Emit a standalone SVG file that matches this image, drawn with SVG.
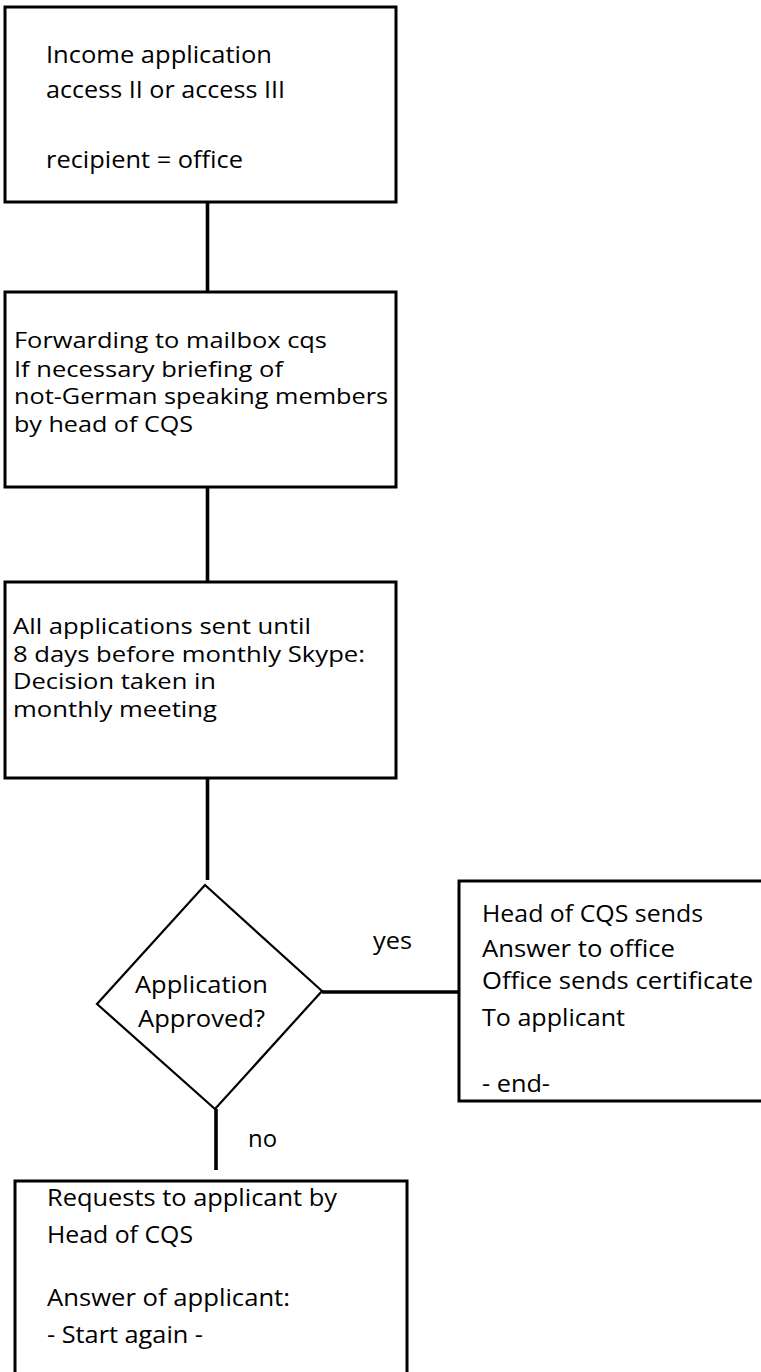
<svg xmlns="http://www.w3.org/2000/svg" width="761" height="1372" viewBox="0 0 761 1372">
<style>
.box{fill:#fff;stroke:#000;stroke-width:3}
.dia{fill:#fff;stroke:#000;stroke-width:2.2;stroke-linejoin:miter}
.con{stroke:#000;stroke-width:3.6;fill:none}
text{font-family:"Open Sans","Liberation Sans",sans-serif;font-size:24px;fill:#000}
.tight{font-size:22px}
</style>
<rect x="0" y="0" width="761" height="1372" fill="#fff"/>
<g id="connectors">
<line class="con" x1="207.5" y1="202" x2="207.5" y2="292"/>
<line class="con" x1="207.5" y1="487" x2="207.5" y2="582"/>
<line class="con" x1="207.5" y1="778" x2="207.5" y2="880"/>
<line class="con" x1="216" y1="1109" x2="216" y2="1170"/>
<line class="con" x1="322" y1="992" x2="459" y2="992"/>
<text x="373" y="949" textLength="39" lengthAdjust="spacingAndGlyphs">yes</text>
<text x="248" y="1147" textLength="29" lengthAdjust="spacingAndGlyphs">no</text>
</g>
<g id="node-income">
<rect class="box" x="5" y="7" width="391" height="195"/>
<text x="46" y="63" textLength="226" lengthAdjust="spacingAndGlyphs">Income application</text>
<text x="46" y="98" textLength="239" lengthAdjust="spacingAndGlyphs">access II or access III</text>
<text x="46" y="168" textLength="197" lengthAdjust="spacingAndGlyphs">recipient = office</text>
</g>
<g id="node-forwarding">
<rect class="box" x="5" y="292" width="391" height="195"/>
<text class="tight" x="14" y="348" textLength="313" lengthAdjust="spacingAndGlyphs">Forwarding to mailbox cqs</text>
<text class="tight" x="14" y="377" textLength="269" lengthAdjust="spacingAndGlyphs">If necessary briefing of</text>
<text class="tight" x="14" y="404" textLength="374" lengthAdjust="spacingAndGlyphs">not-German speaking members</text>
<text class="tight" x="14" y="432" textLength="179" lengthAdjust="spacingAndGlyphs">by head of CQS</text>
</g>
<g id="node-decision-meeting">
<rect class="box" x="5" y="582" width="391" height="196"/>
<text class="tight" x="13" y="634" textLength="298" lengthAdjust="spacingAndGlyphs">All applications sent until</text>
<text class="tight" x="13" y="662" textLength="352" lengthAdjust="spacingAndGlyphs">8 days before monthly Skype:</text>
<text class="tight" x="13" y="689" textLength="203" lengthAdjust="spacingAndGlyphs">Decision taken in</text>
<text class="tight" x="13" y="717" textLength="204" lengthAdjust="spacingAndGlyphs">monthly meeting</text>
</g>
<g id="node-approved">
<polygon class="dia" points="205,885 322,991 215,1109 97,1004"/>
<text x="135" y="993" textLength="133" lengthAdjust="spacingAndGlyphs">Application</text>
<text x="138" y="1027" textLength="127" lengthAdjust="spacingAndGlyphs">Approved?</text>
</g>
<g id="node-yes">
<rect class="box" x="459" y="881" width="320" height="220"/>
<text x="482" y="922" textLength="221" lengthAdjust="spacingAndGlyphs">Head of CQS sends</text>
<text x="482" y="957" textLength="193" lengthAdjust="spacingAndGlyphs">Answer to office</text>
<text x="482" y="989" textLength="271" lengthAdjust="spacingAndGlyphs">Office sends certificate</text>
<text x="482" y="1026" textLength="143" lengthAdjust="spacingAndGlyphs">To applicant</text>
<text x="482" y="1092" textLength="68" lengthAdjust="spacingAndGlyphs">- end-</text>
</g>
<g id="node-no">
<rect class="box" x="15" y="1181" width="392" height="220"/>
<text x="47" y="1206" textLength="290" lengthAdjust="spacingAndGlyphs">Requests to applicant by</text>
<text x="47" y="1243" textLength="146" lengthAdjust="spacingAndGlyphs">Head of CQS</text>
<text x="47" y="1306" textLength="243" lengthAdjust="spacingAndGlyphs">Answer of applicant:</text>
<text x="47" y="1343" textLength="156" lengthAdjust="spacingAndGlyphs">- Start again -</text>
</g>
</svg>
